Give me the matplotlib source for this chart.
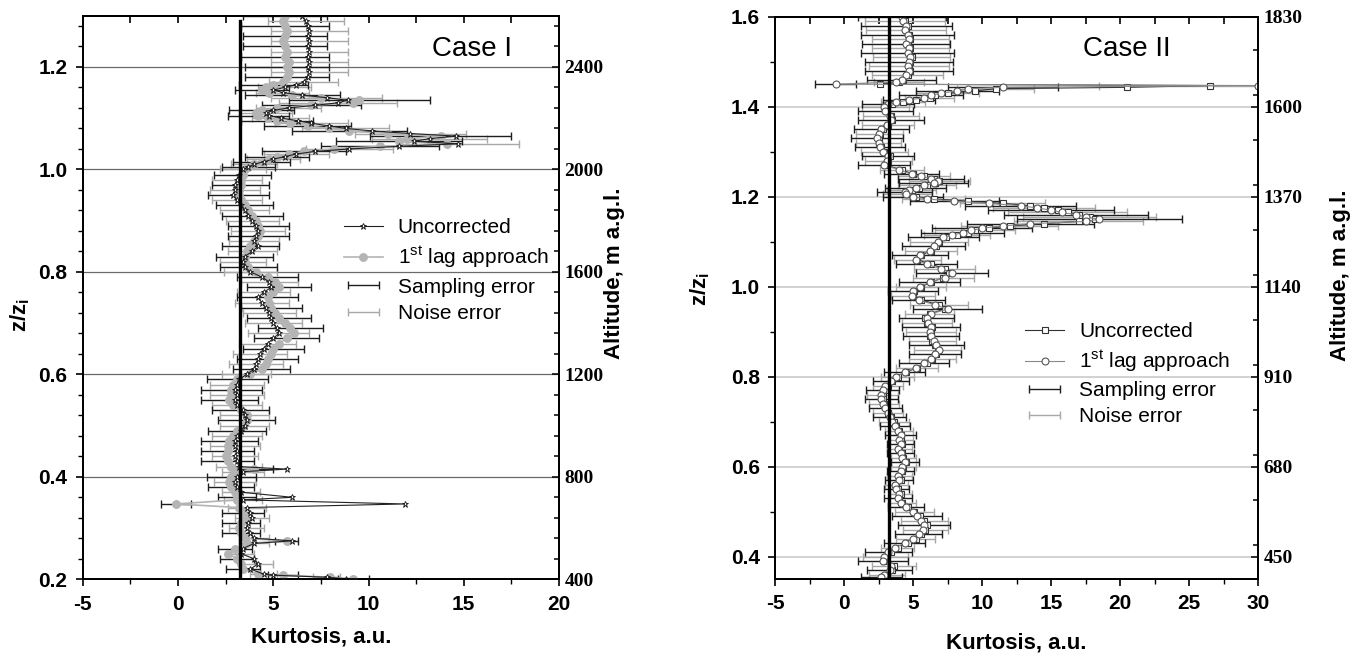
import numpy as np
import matplotlib
matplotlib.use("Agg")
import matplotlib.pyplot as plt
from matplotlib.ticker import MultipleLocator, FixedLocator, FormatStrFormatter
from matplotlib.legend_handler import HandlerErrorbar
from matplotlib.container import ErrorbarContainer

plt.rcParams['font.family'] = ['Liberation Sans', 'DejaVu Sans']
plt.rcParams['mathtext.fontset'] = 'custom'
plt.rcParams['mathtext.rm'] = 'Liberation Sans'
plt.rcParams['mathtext.bf'] = 'Liberation Sans:bold'
plt.rcParams['mathtext.it'] = 'Liberation Sans:italic'
plt.rcParams['axes.unicode_minus'] = False

# ---------------- Case I data ----------------
z_I = [
    1.30, 1.29, 1.28, 1.27, 1.26, 1.25, 1.24, 1.23, 1.22, 1.21,
    1.20, 1.19, 1.18, 1.17, 1.165, 1.16, 1.155, 1.15, 1.145, 1.14,
    1.135, 1.13, 1.125, 1.12, 1.115, 1.11, 1.105, 1.10, 1.095, 1.09,
    1.085, 1.08, 1.075, 1.07, 1.065, 1.06, 1.055, 1.05, 1.045, 1.04,
    1.035, 1.03, 1.025, 1.02, 1.015, 1.01, 1.005, 1.00, 0.99, 0.98,
    0.97, 0.96, 0.95, 0.94, 0.93, 0.92, 0.91, 0.90, 0.89, 0.88,
    0.87, 0.86, 0.85, 0.84, 0.83, 0.82, 0.81, 0.80, 0.79, 0.78,
    0.77, 0.76, 0.75, 0.74, 0.73, 0.72, 0.71, 0.70, 0.69, 0.68,
    0.67, 0.66, 0.65, 0.64, 0.63, 0.62, 0.61, 0.60, 0.59, 0.58,
    0.57, 0.56, 0.55, 0.54, 0.53, 0.52, 0.51, 0.50, 0.49, 0.48,
    0.47, 0.46, 0.45, 0.44, 0.43, 0.42, 0.415, 0.41, 0.40, 0.39,
    0.38, 0.37, 0.36, 0.355, 0.347, 0.34, 0.33, 0.32, 0.31, 0.30,
    0.29, 0.28, 0.275, 0.27, 0.26, 0.25, 0.24, 0.23, 0.22, 0.21,
    0.208, 0.204, 0.201]
unc_I = [
    6.5, 6.7, 6.8, 6.9, 6.8, 6.9, 6.8, 6.9, 6.8, 6.9,
    6.8, 6.9, 6.8, 6.6, 6.2, 5.6, 5.0, 5.5, 6.5, 7.8,
    8.9, 8.4, 7.2, 5.8, 5.0, 4.6, 4.8, 5.4, 6.3, 7.0,
    7.9, 8.8, 10.2, 12.2, 14.6, 13.2, 12.4, 14.7, 11.6, 9.0,
    7.2, 6.2, 5.6, 5.0, 4.5, 4.0, 3.7, 3.4, 3.2, 3.1,
    3.0, 3.0, 2.9, 3.1, 3.3, 3.5, 3.7, 3.9, 4.1, 4.2,
    4.1, 4.0, 4.2, 3.9, 3.5, 3.4, 3.5, 3.8, 4.4, 4.8,
    4.9, 4.5, 4.2, 4.4, 4.6, 4.8, 4.9, 5.0, 5.2, 5.3,
    5.0, 4.7, 4.5, 4.3, 4.2, 4.1, 4.0, 3.6, 3.2, 3.1,
    3.0, 3.1, 3.0, 3.1, 3.4, 3.5, 3.6, 3.5, 3.3, 3.1,
    3.0, 3.0, 3.1, 3.0, 3.1, 3.2, 5.7, 3.4, 3.1, 3.0,
    3.1, 3.3, 6.0, 3.4, 11.9, 3.6, 3.8, 3.9, 3.7, 3.6,
    3.8, 4.0, 6.0, 4.0, 3.4, 3.3, 4.0, 4.2, 3.8, 4.5,
    5.0, 7.8, 8.8]
lag_I = [
    5.6, 5.5, 5.6, 5.7, 5.6, 5.5, 5.6, 5.7, 5.6, 5.8,
    5.7, 5.8, 5.7, 5.5, 5.0, 4.6, 4.4, 4.8, 6.0, 7.5,
    9.5, 9.2, 7.0, 5.2, 4.4, 4.1, 4.2, 4.7, 5.2, 5.9,
    6.8, 7.9, 9.0, 11.0, 13.8, 12.0, 11.6, 14.1, 10.6, 8.2,
    6.6, 5.8, 5.2, 4.8, 4.4, 4.0, 3.7, 3.5, 3.4, 3.3,
    3.3, 3.2, 3.2, 3.3, 3.5, 3.7, 3.9, 4.1, 4.2, 4.3,
    4.2, 4.0, 3.8, 3.6, 3.5, 3.5, 3.7, 4.1, 4.7, 5.1,
    5.3, 5.0, 4.7, 4.8, 4.9, 5.1, 5.3, 5.6, 5.9, 6.1,
    5.7, 5.3, 5.0, 4.9, 4.7, 4.6, 4.4, 3.8, 3.1, 2.9,
    2.8, 2.8, 2.7, 2.9, 3.3, 3.6, 3.6, 3.4, 3.1, 2.9,
    2.7, 2.6, 2.6, 2.5, 2.6, 2.8, 4.0, 3.0, 2.8, 2.7,
    2.8, 3.0, 3.1, 3.1, -0.1, 3.2, 3.4, 3.5, 3.3, 3.2,
    3.3, 3.5, 5.7, 3.6, 3.0, 2.6, 3.1, 3.3, 3.4, 4.2,
    5.5, 8.0, 9.2]
samp_I = [
    2.2, 2.2, 2.3, 2.2, 2.2, 2.3, 2.2, 2.2, 2.3, 2.2,
    2.2, 2.3, 2.2, 2.1, 1.8, 1.6, 1.4, 1.5, 2.5, 3.3,
    3.7, 3.6, 2.6, 1.9, 1.7, 1.6, 1.6, 1.7, 1.9, 2.1,
    2.3, 2.6, 3.0, 3.3, 3.7, 3.4, 3.3, 3.7, 3.1, 2.6,
    2.2, 1.9, 1.7, 1.6, 1.5, 1.4, 1.4, 1.4, 1.5, 1.5,
    1.5, 1.5, 1.6, 1.5, 1.5, 1.5, 1.6, 1.6, 1.6, 1.6,
    1.6, 1.5, 1.5, 1.5, 1.5, 1.4, 1.5, 1.6, 1.6, 1.7,
    1.7, 1.6, 1.6, 1.6, 1.6, 1.6, 1.7, 1.7, 1.7, 1.8,
    1.7, 1.7, 1.6, 1.6, 1.6, 1.6, 1.5, 1.5, 1.6, 1.6,
    1.6, 1.6, 1.5, 1.5, 1.5, 1.5, 1.5, 1.5, 1.5, 1.5,
    1.5, 1.5, 1.4, 1.4, 1.4, 1.4, 1.0, 1.3, 1.3, 1.3,
    1.2, 1.2, 1.0, 1.2, 0.8, 1.1, 1.1, 1.0, 1.0, 1.0,
    1.0, 0.9, 0.6, 0.9, 0.9, 0.8, 0.9, 0.9, 0.9, 0.8,
    0.8, 0.8, 0.8]
noise_I = [
    1.9, 2.0, 1.9, 2.0, 1.9, 2.0, 1.9, 2.0, 1.9, 2.0,
    1.9, 2.0, 1.9, 1.8, 1.6, 1.4, 1.3, 1.4, 2.2, 2.9,
    3.2, 3.1, 2.3, 1.7, 1.5, 1.4, 1.4, 1.5, 1.7, 1.9,
    2.0, 2.3, 2.6, 2.9, 3.2, 3.0, 2.9, 3.2, 2.7, 2.3,
    1.9, 1.7, 1.5, 1.4, 1.3, 1.2, 1.2, 1.2, 1.3, 1.3,
    1.3, 1.3, 1.4, 1.3, 1.3, 1.3, 1.4, 1.4, 1.4, 1.4,
    1.4, 1.3, 1.3, 1.3, 1.3, 1.2, 1.3, 1.4, 1.4, 1.5,
    1.5, 1.4, 1.4, 1.4, 1.4, 1.4, 1.5, 1.5, 1.5, 1.6,
    1.5, 1.5, 1.4, 1.4, 1.4, 1.4, 1.3, 1.3, 1.4, 1.4,
    1.4, 1.4, 1.3, 1.3, 1.3, 1.3, 1.3, 1.3, 1.3, 1.3,
    1.3, 1.3, 1.2, 1.2, 1.2, 1.2, 0.9, 1.1, 1.1, 1.1,
    1.0, 1.0, 0.9, 1.0, 0.7, 1.0, 1.0, 0.9, 0.9, 0.9,
    0.9, 0.8, 0.5, 0.8, 0.8, 0.7, 0.8, 0.8, 0.8, 0.7,
    0.7, 0.7, 0.7]

# ---------------- Case II data ----------------
z_II = [
    1.60, 1.59, 1.58, 1.57, 1.56, 1.55, 1.54, 1.53, 1.52, 1.51,
    1.50, 1.49, 1.48, 1.47, 1.46, 1.455, 1.45, 1.447, 1.443, 1.44,
    1.435, 1.43, 1.425, 1.42, 1.415, 1.41, 1.405, 1.40, 1.39, 1.38,
    1.37, 1.36, 1.35, 1.34, 1.33, 1.32, 1.31, 1.30, 1.29, 1.28,
    1.27, 1.26, 1.25, 1.245, 1.24, 1.235, 1.23, 1.225, 1.22, 1.215,
    1.21, 1.205, 1.20, 1.195, 1.19, 1.185, 1.18, 1.175, 1.17, 1.165,
    1.16, 1.155, 1.15, 1.145, 1.14, 1.135, 1.13, 1.125, 1.12, 1.115,
    1.11, 1.10, 1.09, 1.08, 1.07, 1.06, 1.05, 1.04, 1.03, 1.02,
    1.01, 1.00, 0.99, 0.98, 0.97, 0.96, 0.95, 0.94, 0.93, 0.92,
    0.91, 0.90, 0.89, 0.88, 0.87, 0.86, 0.85, 0.84, 0.83, 0.82,
    0.81, 0.80, 0.79, 0.78, 0.77, 0.76, 0.75, 0.74, 0.73, 0.72,
    0.71, 0.70, 0.69, 0.68, 0.67, 0.66, 0.65, 0.64, 0.63, 0.62,
    0.61, 0.60, 0.59, 0.58, 0.57, 0.56, 0.55, 0.54, 0.53, 0.52,
    0.51, 0.50, 0.49, 0.48, 0.47, 0.46, 0.45, 0.44, 0.43, 0.42,
    0.41, 0.40, 0.39, 0.38, 0.37, 0.36, 0.355]
unc_II = [
    4.3, 4.4, 4.6, 4.5, 4.7, 4.8, 4.6, 4.8, 4.7, 4.9,
    4.8, 4.7, 4.8, 4.6, 4.3, 4.0, 2.6, 26.5, 20.5, 11.0,
    9.5, 7.5, 6.6, 6.2, 5.2, 4.3, 3.5, 3.0, 3.1, 3.4,
    3.5, 3.2, 2.8, 2.6, 2.5, 2.5, 2.7, 2.9, 3.3, 3.2,
    3.0, 4.2, 5.0, 5.8, 6.5, 6.9, 6.6, 6.0, 5.4, 4.9,
    4.5, 4.6, 5.2, 6.5, 9.0, 11.5, 13.5, 14.5, 15.5, 16.2,
    17.0, 17.8, 18.2, 17.0, 14.5, 12.0, 10.5, 9.5, 9.0, 8.2,
    7.4, 6.9, 6.7, 6.3, 5.6, 5.3, 6.3, 7.3, 7.6, 7.2,
    6.3, 5.6, 5.1, 5.0, 5.6, 6.9, 7.3, 6.2, 5.9, 6.0,
    6.4, 6.3, 6.2, 6.4, 6.6, 6.8, 6.7, 6.4, 6.0, 5.3,
    4.5, 3.9, 3.5, 3.2, 3.0, 2.8, 2.8, 2.9, 3.1, 3.2,
    3.4, 3.6, 3.8, 4.0, 4.1, 4.1, 4.2, 4.0, 4.2, 4.3,
    4.5, 4.3, 4.2, 4.0, 4.1, 3.8, 3.9, 4.1, 4.0, 4.2,
    4.6, 5.1, 5.5, 5.8, 6.0, 5.9, 5.6, 5.2, 4.6, 3.9,
    3.4, 3.0, 2.9, 3.6, 3.5, 3.1, 2.8]
lag_II = [
    4.2, 4.3, 4.5, 4.4, 4.6, 4.7, 4.5, 4.7, 4.6, 4.8,
    4.7, 4.6, 4.7, 4.5, 4.2, 3.8, -0.6, 30.0, 11.5, 9.0,
    8.2, 7.0, 6.3, 5.8, 4.7, 3.8, 3.2, 2.9, 3.0, 3.3,
    3.4, 3.1, 2.7, 2.5, 2.4, 2.5, 2.6, 2.8, 3.2, 3.1,
    2.9, 4.0, 4.9, 5.6, 6.3, 6.8, 6.5, 5.8, 5.2, 4.7,
    4.4, 4.5, 5.0, 6.0, 8.0, 10.5, 12.8, 14.0, 15.0, 15.8,
    16.8, 17.5, 18.5, 17.5, 13.5, 11.5, 10.0, 9.2, 8.6, 7.8,
    7.2, 6.8, 6.5, 6.2, 5.5, 5.2, 6.0, 7.0, 7.8, 7.3,
    6.2, 5.5, 5.0, 4.9, 5.4, 6.6, 7.5, 6.3, 6.0, 6.1,
    6.3, 6.2, 6.3, 6.5, 6.7, 6.9, 6.6, 6.3, 5.8, 5.2,
    4.4, 3.8, 3.4, 3.0, 2.8, 2.7, 2.7, 2.8, 3.0, 3.2,
    3.3, 3.5, 3.7, 3.9, 4.1, 4.0, 4.1, 3.9, 4.1, 4.2,
    4.4, 4.2, 4.1, 3.9, 4.0, 3.7, 3.8, 4.0, 3.9, 4.1,
    4.5, 5.0, 5.3, 5.6, 5.8, 5.7, 5.4, 5.0, 4.4, 3.7,
    3.2, 2.9, 2.8, 3.4, 3.3, 2.9, 2.7]
samp_II = [
    3.2, 3.3, 3.3, 3.2, 3.4, 3.3, 3.2, 3.3, 3.4, 3.3,
    3.2, 3.3, 3.2, 3.0, 2.5, 2.0, 1.5, 9.4, 4.0, 3.2,
    3.0, 2.6, 2.3, 2.1, 1.9, 1.8, 1.9, 1.9, 2.0, 2.3,
    2.4, 2.2, 2.0, 1.9, 1.9, 1.8, 1.8, 1.9, 1.9, 1.9,
    1.9, 1.8, 2.0, 2.2, 2.4, 2.5, 2.5, 2.4, 2.2, 2.0,
    2.0, 2.0, 2.2, 2.6, 3.2, 3.6, 4.0, 4.3, 4.6, 5.0,
    5.2, 5.6, 6.0, 5.5, 4.6, 4.0, 3.6, 3.3, 3.0, 2.8,
    2.6, 2.4, 2.3, 2.2, 2.0, 1.9, 2.2, 2.5, 2.6, 2.5,
    2.2, 2.0, 1.8, 1.8, 1.9, 2.4, 2.5, 2.1, 2.0, 2.0,
    2.1, 2.1, 2.0, 2.0, 2.0, 2.0, 1.9, 1.9, 1.8, 1.7,
    1.5, 1.4, 1.3, 1.2, 1.2, 1.2, 1.2, 1.2, 1.2, 1.2,
    1.2, 1.2, 1.1, 1.1, 1.1, 1.0, 1.0, 1.0, 1.0, 1.0,
    1.0, 1.0, 1.0, 1.0, 1.0, 0.9, 0.9, 0.9, 1.0, 1.1,
    1.3, 1.6, 1.8, 1.9, 1.9, 1.8, 1.7, 1.6, 1.5, 1.4,
    1.7, 1.8, 1.8, 1.8, 1.6, 1.5, 1.5]
noise_II = [
    2.8, 2.9, 2.8, 2.9, 2.9, 2.8, 2.9, 2.8, 2.9, 2.8,
    2.8, 2.9, 2.8, 2.6, 2.2, 1.8, 1.3, 8.0, 3.5, 2.8,
    2.6, 2.3, 2.0, 1.8, 1.7, 1.6, 1.6, 1.7, 1.8, 2.0,
    2.1, 1.9, 1.8, 1.7, 1.7, 1.6, 1.6, 1.7, 1.7, 1.7,
    1.7, 1.6, 1.8, 1.9, 2.1, 2.2, 2.2, 2.1, 1.9, 1.8,
    1.8, 1.8, 1.9, 2.3, 2.8, 3.1, 3.4, 3.7, 4.0, 4.3,
    4.5, 4.8, 5.1, 4.7, 4.0, 3.5, 3.1, 2.9, 2.6, 2.4,
    2.3, 2.1, 2.0, 1.9, 1.8, 1.7, 1.9, 2.2, 2.3, 2.2,
    1.9, 1.8, 1.6, 1.6, 1.7, 2.1, 2.2, 1.8, 1.8, 1.8,
    1.8, 1.8, 1.7, 1.7, 1.7, 1.7, 1.7, 1.7, 1.6, 1.5,
    1.3, 1.2, 1.1, 1.1, 1.1, 1.1, 1.1, 1.1, 1.1, 1.1,
    1.1, 1.1, 1.0, 1.0, 1.0, 0.9, 0.9, 0.9, 0.9, 0.9,
    0.9, 0.9, 0.9, 0.9, 0.9, 0.8, 0.8, 0.8, 0.9, 1.0,
    1.1, 1.4, 1.6, 1.7, 1.7, 1.6, 1.5, 1.4, 1.3, 1.2,
    1.5, 1.6, 1.6, 1.6, 1.4, 1.3, 1.3]

gauss_ref = 3.25
alt_ticks_I = [400, 800, 1200, 1600, 2000, 2400]
alt_ticks_II = [450, 680, 910, 1140, 1370, 1600, 1830]


def trim(*arrs):
    n = min(len(a) for a in arrs)
    return [np.asarray(a[:n], dtype=float) for a in arrs]


fig = plt.figure(figsize=(13.54, 6.57), dpi=100)
axL = fig.add_axes([0.0611, 0.1183, 0.3518, 0.8578])
axR = fig.add_axes([0.5724, 0.1184, 0.3567, 0.8562])

BOLD = dict(fontweight='bold')
LEG_HANDLERS = {ErrorbarContainer: HandlerErrorbar(xerr_size=0.75)}


def style_axes(ax, xlim, ylim, yminor, gridcolor, gridlw):
    ax.set_xlim(*xlim)
    ax.set_ylim(*ylim)
    ax.xaxis.set_major_locator(MultipleLocator(5))
    ax.xaxis.set_minor_locator(MultipleLocator(2.5))
    ax.yaxis.set_major_locator(MultipleLocator(0.2))
    ax.yaxis.set_minor_locator(MultipleLocator(yminor))
    ax.yaxis.set_major_formatter(FormatStrFormatter('%.1f'))
    ax.tick_params(axis='both', which='both', direction='out', right=False, top=False)
    ax.tick_params(which='major', length=5, width=1.2, labelsize=15, pad=6)
    ax.tick_params(which='minor', length=3.5, width=1.0)
    for lbl in ax.get_xticklabels() + ax.get_yticklabels():
        lbl.set_fontweight('bold')
    for s in ax.spines.values():
        s.set_linewidth(1.3)
    ax.grid(True, axis='y', which='major', color=gridcolor, lw=gridlw, zorder=0)
    ax.set_axisbelow(True)
    sec = ax.secondary_xaxis('top')
    sec.xaxis.set_major_locator(MultipleLocator(5))
    sec.xaxis.set_minor_locator(MultipleLocator(2.5))
    sec.tick_params(axis='x', which='both', direction='in', labeltop=False, length=5, width=1.2)
    sec.spines['top'].set_linewidth(1.3)


# ---------------- Panel I ----------------
zI, uI, lI, sI, nI = trim(z_I, unc_I, lag_I, samp_I, noise_I)
style_axes(axL, (-5, 20), (0.2, 1.3), 0.04, '#6a6a6a', 0.9)

eb_noise_L = axL.errorbar(uI, zI, xerr=nI, fmt='none', ecolor='#a8a8a8', elinewidth=1.0,
                          capsize=3, capthick=1.0, errorevery=(1, 2), zorder=2, label='Noise error')
eb_samp_L = axL.errorbar(lI, zI, xerr=sI, fmt='none', ecolor='#1e1e1e', elinewidth=1.0,
                         capsize=3, capthick=1.0, errorevery=(0, 2), zorder=2.5, label='Sampling error')
ln_lag_L, = axL.plot(lI, zI, '-', color='#b4b4b4', lw=1.2, marker='o', ms=5.4,
                     mfc='#b4b4b4', mec='#b4b4b4', zorder=3, label=r'1$^{\mathregular{st}}$ lag approach')
ln_unc_L, = axL.plot(uI, zI, '-', color='#222222', lw=0.8, marker='*', ms=5,
                     mfc='white', mec='#111111', mew=0.6, zorder=4, label='Uncorrected')
axL.axvline(gauss_ref, ymin=0, ymax=0.99, color='black', lw=2.4, zorder=5)

axL.text(0.901, 0.941, 'Case I', transform=axL.transAxes, fontsize=20, ha='right', va='center')
axL.set_xlabel('Kurtosis, a.u.', fontsize=16, **BOLD)
axL.xaxis.set_label_coords(0.5, -0.083)
axL.set_ylabel(r'z/z$_{\mathbf{i}}$', fontsize=16, **BOLD)
axL.yaxis.set_label_coords(-0.106, 0.469)

legL = axL.legend(handles=[ln_unc_L, ln_lag_L, eb_samp_L, eb_noise_L], loc='upper left',
                  bbox_to_anchor=(0.53, 0.655), frameon=False, fontsize=15,
                  handlelength=1.9, handletextpad=0.7, labelspacing=0.35, borderaxespad=0,
                  handler_map=LEG_HANDLERS)

ax2L = axL.twinx()
ax2L.set_ylim(2000 * 0.2, 2000 * 1.3)
ax2L.yaxis.set_major_locator(FixedLocator(alt_ticks_I))
ax2L.yaxis.set_minor_locator(MultipleLocator(80))
ax2L.tick_params(axis='y', which='both', direction='in', width=1.1)
ax2L.tick_params(axis='y', which='major', length=5, labelsize=14, pad=4)
ax2L.tick_params(axis='y', which='minor', length=3.5)
for lbl in ax2L.get_yticklabels():
    lbl.set_fontfamily('Liberation Serif')
    lbl.set_fontweight('bold')
ax2L.set_ylabel('Altitude, m a.g.l.', fontsize=16, **BOLD)
ax2L.yaxis.set_label_coords(1.094, 0.543)
for s in ax2L.spines.values():
    s.set_linewidth(1.3)

# ---------------- Panel II ----------------
zII, uII, lII, sII, nII = trim(z_II, unc_II, lag_II, samp_II, noise_II)
style_axes(axR, (-5, 30), (0.35, 1.6), 0.1, '#cfcfcf', 1.3)

eb_noise_R = axR.errorbar(uII, zII, xerr=nII, fmt='none', ecolor='#a8a8a8', elinewidth=1.0,
                          capsize=3, capthick=1.0, errorevery=(1, 2), zorder=2, label='Noise error')
eb_samp_R = axR.errorbar(lII, zII, xerr=sII, fmt='none', ecolor='#1e1e1e', elinewidth=1.0,
                         capsize=3, capthick=1.0, errorevery=(0, 2), zorder=2.5, label='Sampling error')
ln_unc_R, = axR.plot(uII, zII, '-', color='#333333', lw=0.8, marker='s', ms=4.2,
                     mfc='white', mec='#333333', mew=0.8, zorder=3, label='Uncorrected')
ln_lag_R, = axR.plot(lII, zII, '-', color='#8a8a8a', lw=0.8, marker='o', ms=5,
                     mfc='white', mec='#555555', mew=0.8, zorder=4, label=r'1$^{\mathregular{st}}$ lag approach')
axR.axvline(gauss_ref, ymin=0, ymax=0.997, color='black', lw=2.4, zorder=5)

axR.text(0.82, 0.943, 'Case II', transform=axR.transAxes, fontsize=20, ha='right', va='center')
axR.set_xlabel('Kurtosis, a.u.', fontsize=16, **BOLD)
axR.xaxis.set_label_coords(0.5, -0.094)
axR.set_ylabel(r'z/z$_{\mathbf{i}}$', fontsize=16, **BOLD)
axR.yaxis.set_label_coords(-0.13, 0.515)

legR = axR.legend(handles=[ln_unc_R, ln_lag_R, eb_samp_R, eb_noise_R], loc='upper left',
                  bbox_to_anchor=(0.5, 0.472), frameon=False, fontsize=15,
                  handlelength=1.9, handletextpad=0.7, labelspacing=0.35, borderaxespad=0,
                  handler_map=LEG_HANDLERS)

ax2R = axR.twinx()
ax2R.set_ylim(1150 * 0.35 - 10, 1150 * 1.6 - 10)
ax2R.yaxis.set_major_locator(FixedLocator(alt_ticks_II))
ax2R.yaxis.set_minor_locator(MultipleLocator(115, offset=20))
ax2R.tick_params(axis='y', which='both', direction='in', width=1.1)
ax2R.tick_params(axis='y', which='major', length=5, labelsize=14, pad=4)
ax2R.tick_params(axis='y', which='minor', length=3.5)
for lbl in ax2R.get_yticklabels():
    lbl.set_fontfamily('Liberation Serif')
    lbl.set_fontweight('bold')
ax2R.set_ylabel('Altitude, m a.g.l.', fontsize=16, **BOLD)
ax2R.yaxis.set_label_coords(1.149, 0.54)
for s in ax2R.spines.values():
    s.set_linewidth(1.3)

fig.savefig('out.png', dpi=100)
